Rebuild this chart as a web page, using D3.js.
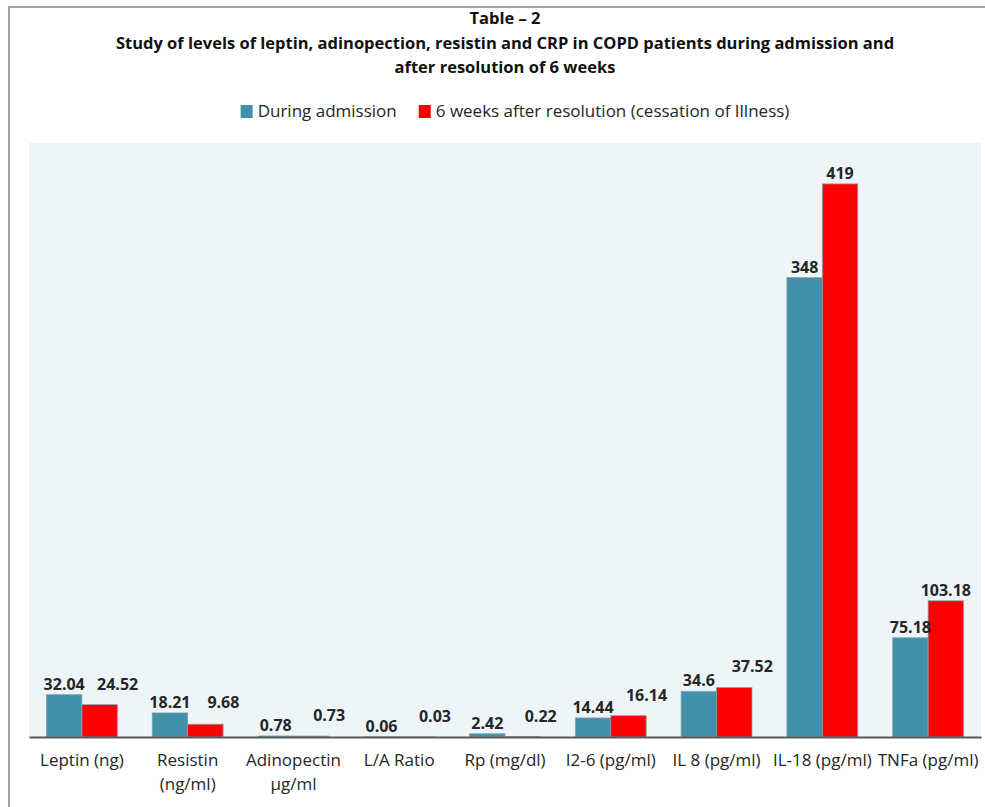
<!DOCTYPE html>
<html>
<head>
<meta charset="utf-8">
<script src="https://cdn.jsdelivr.net/npm/d3@7/dist/d3.min.js"></script>
<style>
  html, body { margin: 0; padding: 0; background: #ffffff; }
  svg { display: block; }
</style>
</head>
<body>
<svg id="chart" width="985" height="807"></svg>
<script>
// Biomarker levels in COPD patients, at admission and 6 weeks after resolution
const categories = [
  "Leptin (ng)", "Resistin (ng/ml)", "Adinopectin µg/ml", "L/A Ratio",
  "Rp (mg/dl)", "I2-6 (pg/ml)", "IL 8 (pg/ml)", "IL-18 (pg/ml)", "TNFa (pg/ml)"
];
const duringAdmission = [32.04, 18.21, 0.78, 0.06, 2.42, 14.44, 34.6, 348, 75.18];
const afterResolution = [24.52, 9.68, 0.73, 0.03, 0.22, 16.14, 37.52, 419, 103.18];
const seriesNames = ["During admission", "6 weeks after resolution (cessation of Illness)"];
const titleLines = [
  "Table – 2",
  "Study of levels of leptin, adinopection, resistin and CRP in COPD patients during admission and",
  "after resolution of 6 weeks"
];
const yMax = 450;

const FONT = "'Open Sans', sans-serif";
const colors = ["#4191A8", "#FF0000"];

const svg = d3.select("#chart");
const W = 985, H = 807;
const plot = { left: 29, right: 981, top: 143, bottom: 737 };

// outer chart frame (left and top edges)
svg.append("path")
  .attr("d", `M9,${H} L9,7 L${W},7`)
  .attr("fill", "none")
  .attr("stroke", "#a0a0a0")
  .attr("stroke-width", 2);

// plot area background
svg.append("rect")
  .attr("x", plot.left).attr("y", plot.top)
  .attr("width", plot.right - plot.left).attr("height", plot.bottom - plot.top)
  .attr("fill", "#EEF5F9");

// title
const cx = (plot.left + plot.right) / 2;
const title = svg.append("g").attr("font-family", FONT).attr("font-weight", "bold")
  .attr("fill", "#111").attr("text-anchor", "middle").attr("font-size", 16.5);
titleLines.forEach((t, i) => {
  title.append("text").attr("x", cx).attr("y", 24 + i * 24.5).text(t);
});

// scales
const x0 = d3.scaleBand().domain(categories)
  .range([plot.left, plot.right]).paddingInner(0.33).paddingOuter(0.165);
const x1 = d3.scaleBand().domain([0, 1]).range([0, x0.bandwidth()]);
const y = d3.scaleLinear().domain([0, yMax]).range([plot.bottom, plot.top]);

const rows = categories.map((c, i) => ({ cat: c, vals: [duringAdmission[i], afterResolution[i]] }));

// bars
const groups = svg.append("g").selectAll("g").data(rows).join("g")
  .attr("transform", d => `translate(${x0(d.cat)},0)`);
groups.selectAll("rect").data(d => d.vals.map((v, s) => ({ v, s }))).join("rect")
  .attr("x", d => x1(d.s))
  .attr("width", x1.bandwidth())
  .attr("y", d => y(d.v))
  .attr("height", d => y(0) - y(d.v))
  .attr("fill", d => colors[d.s])
  .attr("stroke", "#7FA3B8")
  .attr("stroke-width", 0.8);

// category axis along the baseline
const axis = svg.append("g")
  .attr("transform", `translate(0,${plot.bottom})`)
  .call(d3.axisBottom(x0).tickSize(0).tickPadding(0));
axis.select(".domain").attr("stroke", "#595959").attr("stroke-width", 2);
axis.selectAll(".tick text").remove();
axis.selectAll(".tick").each(function (d) {
  const g = d3.select(this);
  const t = g.append("text")
    .attr("font-family", FONT).attr("font-size", 17).attr("fill", "#262626")
    .attr("text-anchor", "middle").attr("y", 29).text(d);
  // wrap labels wider than one category slot
  if (t.node().getComputedTextLength() > x0.step() + 8) {
    const words = d.split(" ");
    const last = words.pop();
    t.text(words.join(" "));
    g.append("text")
      .attr("font-family", FONT).attr("font-size", 17).attr("fill", "#262626")
      .attr("text-anchor", "middle").attr("y", 53).text(last);
  }
});

// value labels: blue first, red moved aside when it would collide with blue
const labels = svg.append("g").attr("font-family", FONT).attr("font-weight", "bold")
  .attr("font-size", 16).attr("fill", "#262626").attr("text-anchor", "middle");
rows.forEach(r => {
  const bx = x0(r.cat) + x1(0) + x1.bandwidth() / 2;
  const rx = x0(r.cat) + x1(1) + x1.bandwidth() / 2;
  const by = y(r.vals[0]) - 5;
  let ry = y(r.vals[1]) - 5;
  const bt = labels.append("text").attr("x", bx).attr("y", by).text(r.vals[0]);
  const rt = labels.append("text").attr("x", rx).attr("y", ry).text(r.vals[1]);
  const bw = bt.node().getComputedTextLength();
  const rw = rt.node().getComputedTextLength();
  const hGap = (rx - rw / 2) - (bx + bw / 2);
  if (Math.abs(ry - by) < 14 && hGap < 10) {
    ry = Math.min(ry - 10, by);
    rt.attr("x", rx + 18).attr("y", ry);
  }
});

// legend
const legend = svg.append("g").attr("font-family", FONT).attr("font-size", 17).attr("fill", "#262626");
let lx = 0;
seriesNames.forEach((name, i) => {
  const g = legend.append("g");
  g.append("rect").attr("width", 12).attr("height", 13).attr("y", -12).attr("fill", colors[i]);
  const t = g.append("text").attr("x", 17).attr("y", 0).text(name);
  const w = 17 + t.node().getComputedTextLength();
  g.attr("transform", `translate(${lx},0)`);
  lx += w + 22;
});
const legendW = lx - 22;
legend.attr("transform", `translate(${515 - legendW / 2},117)`);
</script>
</body>
</html>
